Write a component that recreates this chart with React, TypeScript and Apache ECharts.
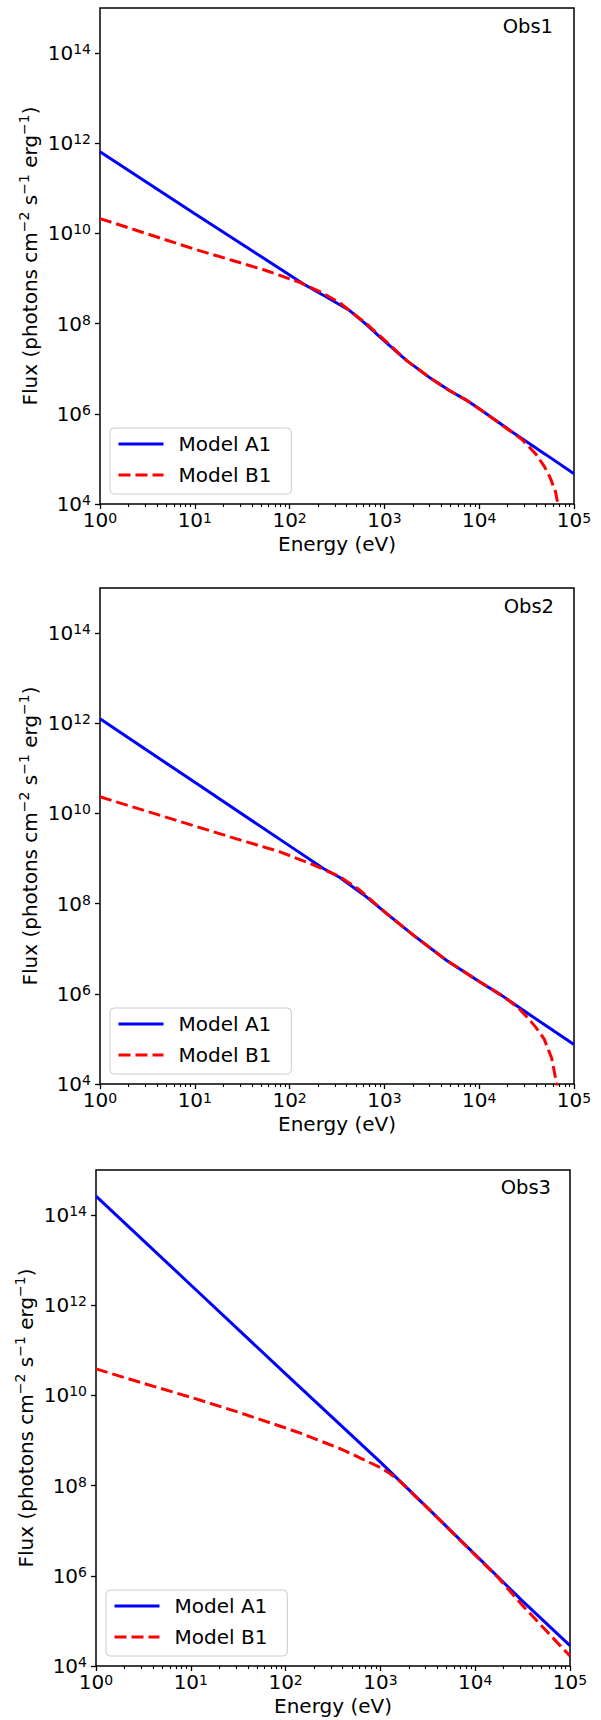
import React, { useEffect, useRef } from "react";
import * as echarts from "echarts";

// ---------- data ----------
const panelNames = ["Obs1", "Obs2", "Obs3"];
const seriesNames = ["Model A1", "Model B1"];

const xMajorTicks = [1, 10, 100, 1000, 10000, 100000];
const xMinorMultipliers = [2, 3, 4, 5, 6, 7, 8, 9];
const yMajorTicks = [1e4, 1e6, 1e8, 1e10, 1e12, 1e14];

const xName = "Energy (eV)";
const yNameParts = ["Flux (photons cm", "−2", "\u00A0s", "−1", "\u00A0erg", "−1", ")"];

// Obs1
const obs1EnergyA = [1, 10, 100, 140, 250, 430, 630, 900, 1260, 1720, 3160, 4900, 7240, 10000, 22900, 50100, 100000];
const obs1FluxA = [6.46e11, 2.75e10, 1.2e9, 7.59e8, 3.8e8, 1.95e8, 1.0e8, 5.01e7, 2.69e7, 1.51e7, 5.89e6, 3.24e6, 2.04e6, 1.29e6, 3.8e5, 1.26e5, 4.68e4];
const obs1EnergyB = [1, 3.16, 10, 25.1, 56.2, 126, 214, 339, 646, 1047, 1720, 3160, 4900, 7240, 10000, 22900, 28200, 33100, 39800, 48400, 56200, 64000, 67600, 70800];
const obs1FluxB = [2.14e10, 9.77e9, 4.47e9, 2.51e9, 1.51e9, 8.32e8, 5.01e8, 2.88e8, 1.0e8, 3.98e7, 1.51e7, 5.89e6, 3.24e6, 2.04e6, 1.29e6, 3.72e5, 2.69e5, 1.91e5, 1.26e5, 6.92e4, 3.8e4, 1.82e4, 1.0e4, 5.6e3];

// Obs2
const obs2EnergyA = [1, 10, 100, 227, 339, 646, 1057, 2018, 4540, 10190, 17400, 39800, 100000];
const obs2FluxA = [1.26e12, 4.9e10, 1.91e9, 6.03e8, 3.8e8, 1.41e8, 6.03e7, 2.0e7, 5.5e6, 1.82e6, 9.12e5, 2.75e5, 7.5e4];
const obs2EnergyB = [1, 10, 35.2, 79.3, 178, 339, 550, 1057, 2018, 4540, 10190, 17400, 20900, 26300, 33100, 39800, 48400, 58200, 65600, 69200];
const obs2FluxB = [2.34e10, 5.25e9, 2.34e9, 1.41e9, 7.24e8, 3.98e8, 2.0e8, 6.03e7, 2.0e7, 5.5e6, 1.82e6, 9.12e5, 6.92e5, 4.68e5, 2.82e5, 1.78e5, 1.0e5, 3.72e4, 1.0e4, 5.0e3];

// Obs3
const obs3EnergyA = [1, 10, 100, 1000, 3162, 10000, 31623, 100000];
const obs3FluxA = [2.63e14, 2.82e12, 3.02e10, 3.31e8, 3.16e7, 2.95e6, 2.75e5, 2.82e4];
const obs3EnergyB = [1, 3.16, 10, 31.6, 100, 141, 214, 375, 479, 631, 1000, 1259, 1620, 3162, 10000, 17800, 31623, 56200, 100000];
const obs3FluxB = [3.89e10, 1.86e10, 9.12e9, 4.27e9, 1.9e9, 1.48e9, 1.05e9, 6.61e8, 5.25e8, 3.98e8, 2.51e8, 1.86e8, 1.23e8, 3.16e7, 2.88e6, 8.71e5, 2.19e5, 6.03e4, 1.66e4];

const energies = [
  [obs1EnergyA, obs1EnergyB],
  [obs2EnergyA, obs2EnergyB],
  [obs3EnergyA, obs3EnergyB],
];
const fluxes = [
  [obs1FluxA, obs1FluxB],
  [obs2FluxA, obs2FluxB],
  [obs3FluxA, obs3FluxB],
];

// ---------- layout / style ----------
const FONT = "DejaVu Sans";
const W = 601;
const H = 1720;
const GRID_W = 474;
const GRID_H = 496;
const panelLayout = [
  { left: 100, top: 8, titleRight: 48, titleTop: 16 },
  { left: 100, top: 588, titleRight: 47, titleTop: 596 },
  { left: 96, top: 1170, titleRight: 50, titleTop: 1177 },
];
const seriesColors = ["#0000ff", "#ff0000"];
const seriesDash: any[] = ["solid", [12, 5]];

const xTickRich = {
  b: { fontFamily: FONT, fontSize: 20, lineHeight: 18, color: "#000" },
  s: { fontFamily: FONT, fontSize: 14, lineHeight: 11, verticalAlign: "top", color: "#000" },
};
const yTickRich = {
  b: { fontFamily: FONT, fontSize: 20, lineHeight: 22, color: "#000" },
  s: { fontFamily: FONT, fontSize: 14, lineHeight: 13, verticalAlign: "top", color: "#000" },
};
const nameRich = {
  b: { fontFamily: FONT, fontSize: 20, lineHeight: 26, color: "#000" },
  s: { fontFamily: FONT, fontSize: 14, lineHeight: 10, verticalAlign: "top", color: "#000" },
};

const powLabel = (v: number) => {
  const e = Math.round(Math.log10(v));
  return `{b|10}{s|${e}}`;
};

const yNameRich = yNameParts
  .map((p, i) => (i % 2 === 0 ? `{b|${p}}` : `{s|${p}}`))
  .join("");

function buildOption() {
  const xMinorTicks: number[] = [];
  for (let d = 0; d < xMajorTicks.length - 1; d++) {
    for (const m of xMinorMultipliers) xMinorTicks.push(m * xMajorTicks[d]);
  }

  const grid: any[] = [];
  const xAxis: any[] = [];
  const yAxis: any[] = [];
  const series: any[] = [];
  const title: any[] = [];
  const legend: any[] = [];

  panelLayout.forEach((p, i) => {
    grid.push({
      left: p.left,
      top: p.top,
      width: GRID_W,
      height: GRID_H,
      show: true,
      borderColor: "#000",
      borderWidth: 1.5,
      backgroundColor: "transparent",
      containLabel: false,
      outerBoundsMode: "none",
    });
    xAxis.push({
      type: "log",
      logBase: 10,
      gridIndex: i,
      min: 1,
      max: 100000,
      position: "bottom",
      name: xName,
      nameLocation: "middle",
      nameGap: 30,
      nameMoveOverlap: false,
      nameTextStyle: { fontFamily: FONT, fontSize: 20, color: "#000", lineHeight: 20 },
      axisLine: { show: false },
      axisTick: {
        show: true,
        length: 5,
        lineStyle: { color: "#000", width: 1.3 },
        customValues: xMajorTicks,
      },
      axisLabel: {
        show: true,
        margin: 7,
        customValues: xMajorTicks,
        formatter: powLabel,
        rich: xTickRich,
        showMinLabel: true,
        showMaxLabel: true,
        hideOverlap: false,
      },
      splitLine: { show: false },
      minorTick: { show: false },
    });
    xAxis.push({
      type: "log",
      logBase: 10,
      gridIndex: i,
      min: 1,
      max: 100000,
      position: "bottom",
      axisLine: { show: false },
      axisTick: {
        show: true,
        length: 3,
        lineStyle: { color: "#000", width: 1.1 },
        customValues: xMinorTicks,
      },
      axisLabel: { show: false },
      splitLine: { show: false },
    });
    yAxis.push({
      type: "log",
      logBase: 10,
      gridIndex: i,
      min: 1e4,
      max: 1e15,
      position: "left",
      name: yNameRich,
      nameLocation: "middle",
      nameRotate: 90,
      nameGap: 57,
      nameMoveOverlap: false,
      nameTextStyle: { rich: nameRich, fontFamily: FONT, fontSize: 20, color: "#000" },
      axisLine: { show: false },
      axisTick: {
        show: true,
        length: 5,
        lineStyle: { color: "#000", width: 1.3 },
        customValues: yMajorTicks,
      },
      axisLabel: {
        show: true,
        margin: 9,
        customValues: yMajorTicks,
        formatter: powLabel,
        rich: yTickRich,
        hideOverlap: false,
      },
      splitLine: { show: false },
    });

    seriesNames.forEach((name, k) => {
      const es = energies[i][k];
      const fs = fluxes[i][k];
      series.push({
        type: "line",
        name,
        xAxisIndex: i * 2,
        yAxisIndex: i,
        data: es.map((e, j) => [e, fs[j]]),
        symbol: "none",
        showSymbol: false,
        clip: true,
        lineStyle: { color: seriesColors[k], width: 3, type: seriesDash[k] },
        itemStyle: { color: seriesColors[k] },
        z: 2 + k,
        emphasis: { disabled: true },
      });
    });

    title.push({
      text: panelNames[i],
      right: p.titleRight,
      top: p.titleTop,
      padding: 0,
      textStyle: {
        fontFamily: FONT,
        fontSize: 19.5,
        fontWeight: "normal",
        color: "#000",
        lineHeight: 20,
      },
    });

    legend.push({
      show: true,
      orient: "vertical",
      left: p.left + 10,
      top: p.top + GRID_H - 10 - 66,
      data: seriesNames,
      itemWidth: 45,
      itemHeight: 20,
      itemGap: 11,
      padding: [6, 20, 9, 7],
      borderColor: "#cccccc",
      borderWidth: 1,
      borderRadius: 4,
      backgroundColor: "rgba(255,255,255,0.8)",
      selectedMode: false,
      itemStyle: { opacity: 0 },
      lineStyle: { width: 3 },
      textStyle: {
        fontFamily: FONT,
        fontSize: 20,
        lineHeight: 20,
        color: "#000",
        padding: [0, 0, 0, 10],
      },
    });
  });

  return {
    animation: false,
    backgroundColor: "#ffffff",
    textStyle: { fontFamily: FONT },
    title,
    legend,
    grid,
    xAxis,
    yAxis,
    series,
  };
}

export default function App() {
  const ref = useRef<HTMLDivElement | null>(null);
  useEffect(() => {
    if (!ref.current) return;
    const chart = echarts.init(ref.current, undefined, { renderer: "svg", width: W, height: H });
    chart.setOption(buildOption() as any);
    return () => chart.dispose();
  }, []);
  return (
    <div
      ref={ref}
      style={{ position: "absolute", left: 0, top: 0, width: W, height: H, background: "#fff" }}
    />
  );
}
